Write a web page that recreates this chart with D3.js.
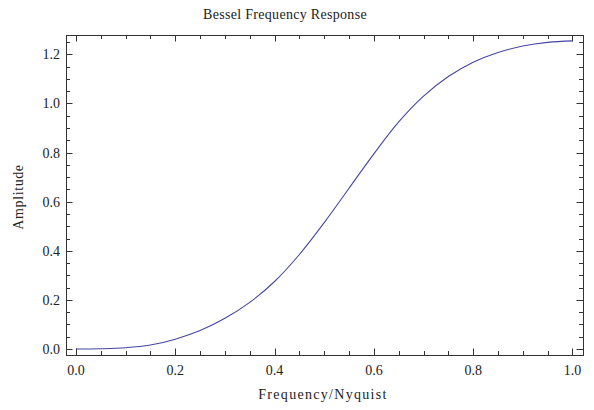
<!DOCTYPE html>
<html>
<head>
<meta charset="utf-8">
<script src="https://cdn.jsdelivr.net/npm/d3@7"></script>
<style>
  body { margin: 0; background: #fff; }
</style>
</head>
<body>
<svg id="chart" width="594" height="410" font-family="'Liberation Serif', 'Times New Roman', Times, serif"></svg>
<script>
// values
var freq = [0, 0.05, 0.1, 0.15, 0.2, 0.25, 0.3, 0.35, 0.4, 0.45, 0.5, 0.55, 0.6, 0.65, 0.7, 0.75, 0.8, 0.85, 0.9, 0.95, 1.0];
var amp  = [0, 0.001, 0.005, 0.016, 0.04, 0.075, 0.125, 0.19, 0.275, 0.385, 0.515, 0.655, 0.795, 0.925, 1.03, 1.11, 1.168, 1.208, 1.234, 1.249, 1.255];
var xTicks = [0, 0.2, 0.4, 0.6, 0.8, 1.0];
var yTicks = [0, 0.2, 0.4, 0.6, 0.8, 1.0, 1.2];
var xMinor = d3.range(0, 1.0001, 0.05);
var yMinor = d3.range(0, 1.2501, 0.05);

var svg = d3.select("#chart");
var margin = {top: 35, right: 11, bottom: 55, left: 66};
var w = 594 - margin.left - margin.right,
    h = 410 - margin.top - margin.bottom;

var x = d3.scaleLinear().domain([-0.0201, 1.0212]).range([0, w]);
var y = d3.scaleLinear().domain([-0.0244, 1.279]).range([h, 0]);

var g = svg.append("g").attr("transform", "translate(" + margin.left + "," + margin.top + ")");

var frameColor = "#333";
var textColor = "#222";

// frame ticks, all pointing inward
var tickLayer = g.append("g").attr("stroke", frameColor).attr("stroke-width", 1);
var isMajor = function(v) { return Math.abs(v * 5 - Math.round(v * 5)) < 1e-6; };

xMinor.forEach(function(v) {
  var len = isMajor(v) ? 6.5 : 4;
  var px = Math.round(x(v)) + 0.5;
  tickLayer.append("line").attr("x1", px).attr("x2", px).attr("y1", h).attr("y2", h - len);
  tickLayer.append("line").attr("x1", px).attr("x2", px).attr("y1", 0).attr("y2", len);
});
yMinor.forEach(function(v) {
  var len = isMajor(v) ? 6.5 : 4;
  var py = Math.round(y(v)) + 0.5;
  tickLayer.append("line").attr("x1", 0).attr("x2", len).attr("y1", py).attr("y2", py);
  tickLayer.append("line").attr("x1", w).attr("x2", w - len).attr("y1", py).attr("y2", py);
});

g.append("rect")
  .attr("x", 0.5).attr("y", 0.5)
  .attr("width", w).attr("height", h)
  .attr("fill", "none")
  .attr("stroke", frameColor)
  .attr("stroke-width", 1);

// tick labels
g.selectAll(".xlab").data(xTicks).enter().append("text")
  .attr("class", "xlab")
  .attr("x", function(d) { return x(d); })
  .attr("y", h + 20)
  .attr("text-anchor", "middle")
  .attr("fill", textColor)
  .style("font-size", "14px")
  .text(function(d) { return d3.format(".1f")(d); });

g.selectAll(".ylab").data(yTicks).enter().append("text")
  .attr("class", "ylab")
  .attr("x", -6)
  .attr("y", function(d) { return y(d); })
  .attr("dy", "0.35em")
  .attr("text-anchor", "end")
  .attr("fill", textColor)
  .style("font-size", "14px")
  .text(function(d) { return d3.format(".1f")(d); });

// curve
var line = d3.line()
  .x(function(d, i) { return x(freq[i]); })
  .y(function(d) { return y(d); })
  .curve(d3.curveCatmullRom);

g.append("path")
  .datum(amp)
  .attr("d", line)
  .attr("fill", "none")
  .attr("stroke", "#4545a0")
  .attr("stroke-width", 1.1);

// titles
svg.append("text")
  .attr("x", 285)
  .attr("y", 19)
  .attr("text-anchor", "middle")
  .attr("fill", textColor)
  .style("font-size", "14px")
  .style("letter-spacing", "0.3px")
  .text("Bessel Frequency Response");

svg.append("text")
  .attr("x", 323)
  .attr("y", 399)
  .attr("text-anchor", "middle")
  .attr("fill", textColor)
  .style("font-size", "14px")
  .style("letter-spacing", "1.3px")
  .text("Frequency/Nyquist");

svg.append("text")
  .attr("transform", "translate(23," + 197 + ") rotate(-90)")
  .attr("text-anchor", "middle")
  .attr("fill", textColor)
  .style("font-size", "14px")
  .style("letter-spacing", "0.6px")
  .text("Amplitude");
</script>
</body>
</html>
